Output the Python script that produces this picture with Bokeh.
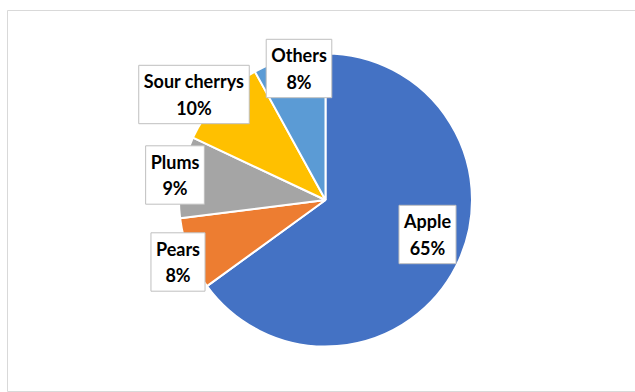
import math
from bokeh.plotting import figure
from bokeh.models import Range1d, Label, ColumnDataSource
from bokeh.embed import file_html
from bokeh.resources import INLINE

categories = ["Apple", "Pears", "Plums", "Sour cherrys", "Others"]
values = [65, 8, 9, 10, 8]
colors = ["#4472C4", "#ED7D31", "#A5A5A5", "#FFC000", "#5B9BD5"]

W, H = 635, 392
# layout (pixel space, y measured from top)
cx, cy, R = 325, 199.5, 146.5
label_pos = [(427, 234), (177.5, 261.5), (174.5, 174.5), (193.5, 94), (298.5, 68)]

total = sum(values)
starts, ends = [], []
cum = 0
for v in values:
    a0 = math.pi / 2 - 2 * math.pi * (cum + v) / total
    a1 = math.pi / 2 - 2 * math.pi * cum / total
    starts.append(a0)
    ends.append(a1)
    cum += v

src = ColumnDataSource(dict(cat=categories, val=values, color=colors,
                            start=starts, end=ends))

p = figure(width=W, height=H, output_backend="svg", toolbar_location=None,
           x_range=Range1d(0, W), y_range=Range1d(0, H), min_border=0)
p.axis.visible = False
p.grid.visible = False
p.outline_line_color = None
p.background_fill_color = "white"
p.border_fill_color = "white"

# chart area border
p.quad(left=[7], right=[W + 5], top=[H - 10], bottom=[H - 391],
       fill_color=None, line_color="#d9d9d9", line_width=1)

p.wedge(x=cx, y=H - cy, radius=R, start_angle="start", end_angle="end",
        direction="anticlock", fill_color="color", line_color="white",
        line_width=2, source=src)

for cat, v, (lx, ly) in zip(categories, values, label_pos):
    lab = Label(x=lx, y=H - ly, text=f"{cat}\n{round(100 * v / total)}%",
                text_align="center", text_baseline="middle",
                text_font="Lato", text_font_style="bold", text_font_size="18px",
                text_color="#000000", text_line_height=1.2,
                background_fill_color="white", border_line_color="#bfbfbf",
                border_line_width=1, padding=5)
    p.add_layout(lab)

open("out.html", "w").write(file_html(p, INLINE))
